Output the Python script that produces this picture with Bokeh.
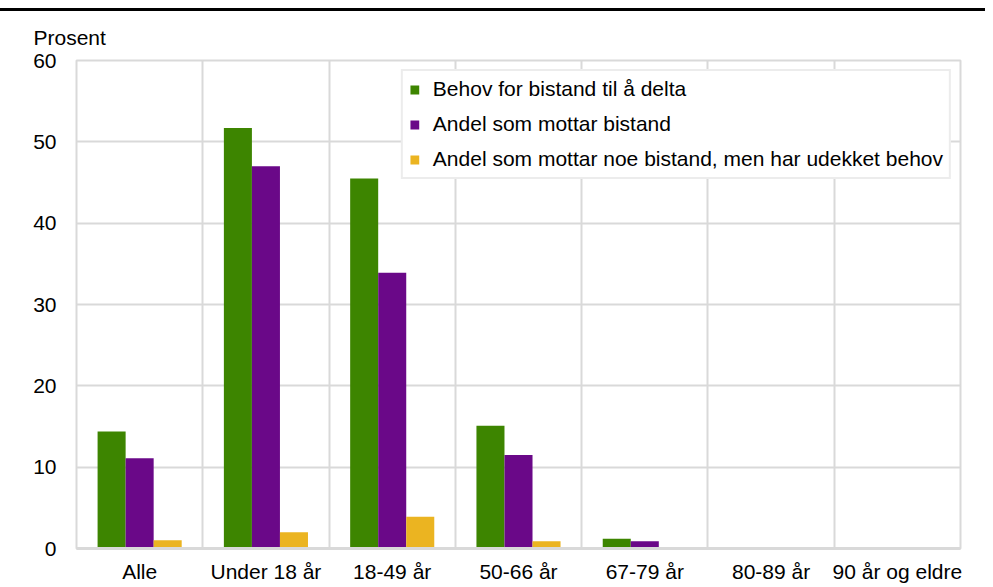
from bokeh.plotting import figure
from bokeh.models import ColumnDataSource, FixedTicker, Legend, LegendItem, Div
from bokeh.layouts import column
from bokeh.embed import file_html
from bokeh.resources import INLINE

categories = ["Alle", "Under 18 år", "18-49 år", "50-66 år", "67-79 år", "80-89 år", "90 år og eldre"]
behov = [14.4, 51.7, 45.5, 15.1, 1.2, 0.1, 0.1]
mottar = [11.1, 47.0, 33.9, 11.5, 0.9, 0.0, 0.0]
udekket = [1.0, 2.0, 3.9, 0.9, 0.0, 0.0, 0.0]
series_names = ["Behov for bistand til å delta", "Andel som mottar bistand",
                "Andel som mottar noe bistand, men har udekket behov"]
colors = ["#3d8500", "#6a0888", "#ebb421"]
y_ticks = [0, 10, 20, 30, 40, 50, 60]
y_title = "Prosent"

FONT = "Liberation Sans"
FS = "21px"

p = figure(width=985, height=574, x_range=(0, len(categories)), y_range=(0, 60),
           output_backend="svg", toolbar_location=None,
           min_border_left=76, min_border_right=25, min_border_top=48, min_border_bottom=30)

bw = 0.222
offsets = [-bw, 0.0, bw]
renderers = []
for vals, off, c in zip([behov, mottar, udekket], offsets, colors):
    src = ColumnDataSource(dict(x=[i + 0.5 + off for i in range(len(categories))], top=vals))
    r = p.vbar(x="x", top="top", bottom=0, width=bw, source=src, fill_color=c, line_color=None)
    renderers.append(r)

legend = Legend(items=[LegendItem(label=n, renderers=[r]) for n, r in zip(series_names, renderers)],
                location="top_right", margin=9, padding=6, spacing=11,
                label_height=24, glyph_width=11, glyph_height=11, label_standoff=13,
                label_text_font=FONT, label_text_font_size=FS, label_text_color="#000000",
                border_line_color="#d9d9d9", border_line_width=2, background_fill_alpha=1.0)
p.add_layout(legend)

p.xaxis.ticker = FixedTicker(ticks=[i + 0.5 for i in range(len(categories))])
p.xaxis.major_label_overrides = {i + 0.5: c for i, c in enumerate(categories)}
p.yaxis.ticker = FixedTicker(ticks=y_ticks)
p.xgrid.ticker = FixedTicker(ticks=list(range(1, len(categories))))
p.ygrid.ticker = FixedTicker(ticks=y_ticks)
p.grid.grid_line_color = "#d9d9d9"
p.grid.grid_line_width = 2

for ax in (p.xaxis, p.yaxis):
    ax.major_tick_line_color = None
    ax.minor_tick_line_color = None
    ax.major_label_text_font = FONT
    ax.major_label_text_font_size = FS
    ax.major_label_text_color = "#000000"
p.xaxis.axis_line_color = "#d9d9d9"
p.xaxis.axis_line_width = 3
p.yaxis.axis_line_color = None
p.xaxis.major_label_standoff = 5
p.yaxis.major_label_standoff = 14

p.outline_line_color = "#d9d9d9"
p.outline_line_width = 2

p.title.text = y_title
p.title.align = "left"
p.title.offset = -43
p.title.text_font = FONT
p.title.text_font_size = FS
p.title.text_font_style = "normal"
p.title.text_color = "#000000"
p.title.standoff = 24

top_line = Div(text="", width=985, height=11, margin=(0, 0, 0, 0),
               styles={"background": "linear-gradient(to bottom, #ffffff 8px, #000000 8px)"})
layout = column(top_line, p, spacing=0)

open("out.html", "w").write(file_html(layout, INLINE))
